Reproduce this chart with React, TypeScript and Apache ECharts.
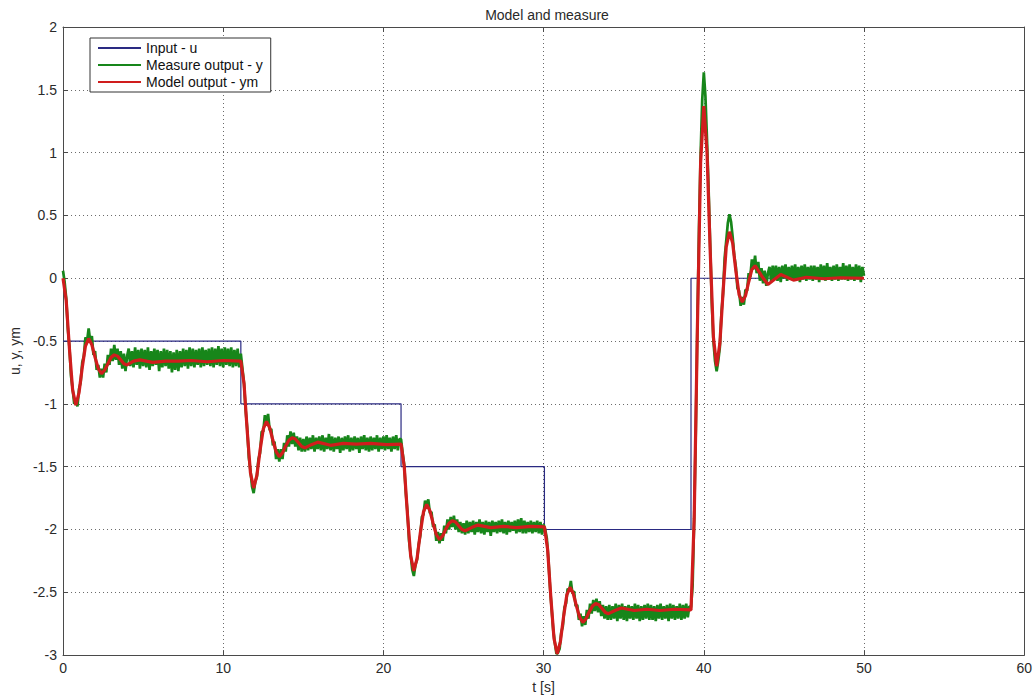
import React, { useEffect, useRef } from "react";
import * as echarts from "echarts";

const TITLE = "Model and measure";
const X_NAME = "t [s]";
const Y_NAME = "u, y, ym";
const LEGEND_NAMES = ["Input - u", "Measure output - y", "Model output - ym"];

// Input signal u: step corners [t, u]
const INPUT_U: [number, number][] = [
  [0, -0.5], [11.1, -0.5], [11.1, -1], [21.1, -1], [21.1, -1.5],
  [30.05, -1.5], [30.05, -2], [39.2, -2], [39.2, 0], [50, 0],
];

// Model output ym [t, ym]
const MODEL_YM: [number, number][] = [
  [0, 0], [0.2, -0.18], [0.4, -0.56], [0.6, -0.89], [0.8, -1.01], [1.0, -0.91], [1.2, -0.71], [1.4, -0.54],
  [1.6, -0.48], [1.8, -0.53], [2.0, -0.63], [2.2, -0.72], [2.4, -0.76], [2.6, -0.73], [2.8, -0.68], [3.0, -0.63],
  [3.2, -0.61], [3.4, -0.62], [3.6, -0.65], [3.8, -0.68], [4.0, -0.69], [4.4, -0.66], [4.8, -0.65], [5.6, -0.67],
  [6.4, -0.66], [7.2, -0.66], [8.0, -0.655], [9.0, -0.665], [10.0, -0.655], [11.1, -0.66],
  [11.3, -0.84], [11.5, -1.22], [11.7, -1.55], [11.9, -1.67], [12.1, -1.57], [12.3, -1.37], [12.5, -1.2],
  [12.7, -1.14], [12.9, -1.19], [13.1, -1.29], [13.3, -1.38], [13.5, -1.42], [13.7, -1.39], [13.9, -1.335],
  [14.1, -1.29], [14.3, -1.27], [14.5, -1.28], [14.7, -1.31], [14.9, -1.34], [15.1, -1.35], [15.5, -1.325],
  [15.9, -1.305], [16.7, -1.33], [17.5, -1.315], [18.3, -1.32], [19.2, -1.315], [20.2, -1.325], [21.1, -1.32],
  [21.3, -1.5], [21.5, -1.88], [21.7, -2.21], [21.9, -2.33], [22.1, -2.23], [22.3, -2.03], [22.5, -1.86],
  [22.7, -1.8], [22.9, -1.85], [23.1, -1.95], [23.3, -2.04], [23.5, -2.08], [23.7, -2.05], [23.9, -1.995],
  [24.1, -1.95], [24.3, -1.93], [24.5, -1.94], [24.7, -1.97], [24.9, -2.0], [25.1, -2.01], [25.5, -1.985],
  [25.9, -1.965], [26.7, -1.985], [27.5, -1.975], [28.3, -1.985], [29.2, -1.975], [30.05, -1.98],
  [30.25, -2.16], [30.45, -2.54], [30.65, -2.87], [30.85, -2.99], [31.05, -2.89], [31.25, -2.69], [31.45, -2.52],
  [31.65, -2.46], [31.85, -2.51], [32.05, -2.61], [32.25, -2.7], [32.45, -2.74], [32.65, -2.71], [32.85, -2.655],
  [33.05, -2.61], [33.25, -2.59], [33.45, -2.6], [33.65, -2.63], [33.85, -2.66], [34.05, -2.67], [34.45, -2.645],
  [34.85, -2.625], [35.65, -2.645], [36.45, -2.635], [37.25, -2.645], [38.2, -2.635], [39.2, -2.64],
  [39.4, -1.91], [39.6, -0.39], [39.8, 0.92], [40.0, 1.37], [40.2, 1.0], [40.4, 0.21], [40.6, -0.47],
  [40.8, -0.7], [41.0, -0.52], [41.2, -0.11], [41.4, 0.25], [41.6, 0.37], [41.8, 0.28], [42.0, 0.06],
  [42.2, -0.13], [42.4, -0.19], [42.6, -0.14], [42.8, -0.03], [43.0, 0.07], [43.2, 0.1], [43.6, 0.02],
  [44.0, -0.05], [44.8, 0.03], [45.6, -0.015], [46.4, 0.008], [47.5, -0.004], [48.5, 0.004], [50.0, 0],
];

// Measured output y, sampled every SAMPLE_DT seconds from t = 0
const SAMPLE_DT = 0.1;
const MEASURED_Y: number[] = [
  // 0.0 - 4.0
  0.06, -0.03, -0.16, -0.40, -0.55, -0.78, -0.88, -1.00, -0.98, -1.02,
  -0.88, -0.83, -0.67, -0.62, -0.47, -0.50, -0.40, -0.50, -0.46, -0.61,
  -0.58, -0.73, -0.69, -0.79, -0.72, -0.79, -0.68, -0.75, -0.61, -0.69,
  -0.56, -0.66, -0.53, -0.65, -0.56, -0.69, -0.58, -0.72, -0.60, -0.74,
  -0.62,
  // 4.1 - 11.0
  -0.56, -0.70, -0.58, -0.71, -0.55, -0.69, -0.57, -0.72, -0.56, -0.70,
  -0.57, -0.71, -0.55, -0.73, -0.58, -0.70, -0.56, -0.69, -0.57, -0.74,
  -0.58, -0.71, -0.56, -0.70, -0.57, -0.72, -0.58, -0.75, -0.59, -0.73,
  -0.57, -0.74, -0.58, -0.71, -0.56, -0.70, -0.57, -0.72, -0.55, -0.70,
  -0.56, -0.71, -0.57, -0.69, -0.56, -0.71, -0.55, -0.70, -0.57, -0.69,
  -0.56, -0.70, -0.55, -0.71, -0.56, -0.69, -0.54, -0.70, -0.56, -0.71,
  -0.55, -0.69, -0.56, -0.70, -0.55, -0.71, -0.57, -0.70, -0.56, -0.71,
  // 11.1 - 15.1
  -0.60, -0.72, -0.84, -1.05, -1.20, -1.43, -1.53, -1.66, -1.71, -1.62,
  -1.58, -1.44, -1.39, -1.22, -1.22, -1.09, -1.16, -1.08, -1.21, -1.20,
  -1.33, -1.30, -1.44, -1.36, -1.46, -1.36, -1.44, -1.31, -1.38, -1.25,
  -1.34, -1.22, -1.32, -1.23, -1.34, -1.26, -1.37, -1.27, -1.38, -1.28,
  -1.38,
  // 15.2 - 21.0
  -1.26, -1.37, -1.27, -1.36, -1.25, -1.38, -1.27, -1.36, -1.26, -1.37,
  -1.25, -1.38, -1.27, -1.36, -1.24, -1.37, -1.26, -1.38, -1.27, -1.36,
  -1.26, -1.39, -1.27, -1.37, -1.26, -1.36, -1.25, -1.38, -1.27, -1.37,
  -1.26, -1.36, -1.27, -1.39, -1.26, -1.36, -1.25, -1.37, -1.27, -1.38,
  -1.26, -1.37, -1.27, -1.36, -1.25, -1.38, -1.27, -1.36, -1.26, -1.37,
  -1.25, -1.36, -1.27, -1.38, -1.26, -1.36, -1.25, -1.37, -1.28,
  // 21.1 - 25.1
  -1.28, -1.39, -1.49, -1.71, -1.86, -2.09, -2.20, -2.32, -2.37, -2.28,
  -2.24, -2.12, -2.05, -1.90, -1.88, -1.77, -1.82, -1.76, -1.87, -1.86,
  -1.98, -1.96, -2.09, -2.02, -2.11, -2.03, -2.09, -1.97, -2.03, -1.92,
  -2.00, -1.90, -1.98, -1.89, -2.00, -1.92, -2.02, -1.94, -2.03, -1.95,
  -2.04,
  // 25.2 - 30.0
  -1.93, -2.03, -1.94, -2.02, -1.93, -2.04, -1.94, -2.02, -1.92, -2.03,
  -1.94, -2.04, -1.93, -2.02, -1.94, -2.05, -1.93, -2.02, -1.94, -2.03,
  -1.93, -2.02, -1.92, -2.03, -1.94, -2.04, -1.93, -2.02, -1.94, -2.01,
  -1.93, -2.03, -1.92, -2.02, -1.91, -2.03, -1.93, -2.03, -1.94, -2.02,
  -1.93, -2.03, -1.94, -2.02, -1.93, -2.03, -1.94, -2.04, -1.96,
  // 30.1 - 34.0
  -2.00, -2.07, -2.24, -2.46, -2.63, -2.80, -2.90, -2.99, -2.98, -2.95,
  -2.82, -2.77, -2.62, -2.59, -2.47, -2.49, -2.41, -2.51, -2.49, -2.61,
  -2.60, -2.72, -2.67, -2.77, -2.69, -2.76, -2.64, -2.71, -2.59, -2.67,
  -2.56, -2.65, -2.55, -2.66, -2.57, -2.69, -2.60, -2.71, -2.61, -2.72,
  // 34.1 - 39.1
  -2.60, -2.72, -2.61, -2.71, -2.59, -2.73, -2.60, -2.71, -2.59, -2.72,
  -2.61, -2.73, -2.60, -2.71, -2.61, -2.72, -2.59, -2.71, -2.60, -2.73,
  -2.61, -2.72, -2.60, -2.71, -2.59, -2.72, -2.60, -2.72, -2.61, -2.73,
  -2.60, -2.71, -2.59, -2.72, -2.61, -2.71, -2.60, -2.73, -2.59, -2.71,
  -2.60, -2.72, -2.61, -2.71, -2.59, -2.72, -2.60, -2.71, -2.59, -2.70,
  -2.61,
  // 39.2 - 44.0
  -2.62, -2.45, -1.90, -1.20, -0.35, 0.40, 0.98, 1.42, 1.64, 1.45,
  1.10, 0.70, 0.25, -0.20, -0.50, -0.66, -0.74, -0.66, -0.55, -0.28,
  -0.12, 0.16, 0.30, 0.44, 0.51, 0.45, 0.33, 0.18, 0.09, -0.08,
  -0.10, -0.22, -0.15, -0.21, -0.09, -0.10, 0.04, 0.01, 0.15, 0.07,
  0.18, 0.04, 0.13, -0.02, 0.08, -0.04, 0.06, -0.06, 0.04,
  // 44.1 - 50.0
  0.09, -0.02, 0.10, -0.01, 0.10, -0.02, 0.09, -0.03, 0.10, 0.00,
  0.11, -0.02, 0.09, -0.01, 0.10, -0.02, 0.11, -0.01, 0.09, -0.03,
  0.10, -0.01, 0.11, -0.02, 0.09, -0.01, 0.10, -0.02, 0.10, -0.01,
  0.09, -0.03, 0.11, -0.01, 0.10, -0.02, 0.12, -0.01, 0.09, -0.02,
  0.10, -0.01, 0.11, -0.02, 0.09, -0.01, 0.12, -0.01, 0.10, -0.02,
  0.11, -0.01, 0.09, -0.02, 0.11, -0.01, 0.10, -0.03, 0.09, 0.02,
];

const FONT = "'Liberation Sans', Arial, sans-serif";
const AXIS_COLOR = "#4a4a4a";
const GRID_COLOR = "#6a6a6a";
const TEXT_COLOR = "#2a2a2a";
const BLUE = "#2a2a82";
const GREEN = "#17861a";
const RED = "#d01d1d";

export default function App() {
  const ref = useRef<HTMLDivElement>(null);

  useEffect(() => {
    if (!ref.current) return;
    const chart = echarts.init(ref.current, null, { renderer: "svg" });

    const measured = MEASURED_Y.map((y, i) => [+(i * SAMPLE_DT).toFixed(2), y]);

    const baseAxis = {
      axisLine: { show: true, onZero: false, lineStyle: { color: AXIS_COLOR, width: 1 } },
      axisTick: { show: true, inside: true, length: 5, lineStyle: { color: AXIS_COLOR } },
    };

    chart.setOption({
      animation: false,
      backgroundColor: "#ffffff",
      textStyle: { fontFamily: FONT },
      title: {
        text: TITLE,
        left: 542,
        top: 3,
        textAlign: "center",
        textStyle: { fontSize: 14, fontWeight: "normal", color: TEXT_COLOR, fontFamily: FONT },
      },
      grid: { left: 59, right: 9, top: 27, bottom: 36, containLabel: false },
      legend: {
        data: [
          { name: LEGEND_NAMES[0], itemStyle: { color: BLUE } },
          { name: LEGEND_NAMES[1], itemStyle: { color: GREEN } },
          { name: LEGEND_NAMES[2], itemStyle: { color: RED } },
        ],
        icon: "rect",
        orient: "vertical",
        left: 90,
        top: 38,
        backgroundColor: "#ffffff",
        borderColor: "#333",
        borderWidth: 1,
        borderRadius: 0,
        padding: [3, 8, 3, 8],
        itemWidth: 43,
        itemHeight: 2,
        itemGap: 3,
        selectedMode: false,
        textStyle: { fontSize: 14, color: "#111", fontFamily: FONT },
      },
      xAxis: [
        {
          type: "value",
          min: 0,
          max: 60,
          interval: 10,
          position: "bottom",
          ...baseAxis,
          axisLabel: { color: TEXT_COLOR, fontSize: 14, margin: 6, fontFamily: FONT },
          splitLine: { show: true, lineStyle: { type: [1, 3], color: GRID_COLOR, width: 1 } },
          name: X_NAME,
          nameLocation: "middle",
          nameGap: 23,
          nameTextStyle: { fontSize: 14, color: TEXT_COLOR, fontFamily: FONT },
        },
        {
          type: "value",
          min: 0,
          max: 60,
          interval: 10,
          position: "top",
          ...baseAxis,
          axisLabel: { show: false },
          splitLine: { show: false },
        },
      ],
      yAxis: [
        {
          type: "value",
          min: -3,
          max: 2,
          interval: 0.5,
          position: "left",
          ...baseAxis,
          axisLabel: { color: TEXT_COLOR, fontSize: 14, margin: 6, fontFamily: FONT },
          splitLine: { show: true, lineStyle: { type: [1, 3], color: GRID_COLOR, width: 1 } },
          name: Y_NAME,
          nameLocation: "middle",
          nameGap: 37,
          nameTextStyle: { fontSize: 14, color: TEXT_COLOR, fontFamily: FONT, padding: [0, 20, 0, 0] },
        },
        {
          type: "value",
          min: -3,
          max: 2,
          interval: 0.5,
          position: "right",
          ...baseAxis,
          axisLabel: { show: false },
          splitLine: { show: false },
        },
      ],
      series: [
        {
          name: LEGEND_NAMES[0],
          type: "line",
          data: INPUT_U,
          xAxisIndex: 0,
          yAxisIndex: 0,
          symbol: "none",
          silent: true,
          lineStyle: { color: BLUE, width: 1.2 },
          itemStyle: { color: BLUE },
        },
        {
          name: LEGEND_NAMES[1],
          type: "line",
          data: measured,
          xAxisIndex: 0,
          yAxisIndex: 0,
          symbol: "none",
          silent: true,
          lineStyle: { color: GREEN, width: 2.7 },
          itemStyle: { color: GREEN },
        },
        {
          name: LEGEND_NAMES[2],
          type: "line",
          data: MODEL_YM,
          xAxisIndex: 0,
          yAxisIndex: 0,
          symbol: "none",
          silent: true,
          lineStyle: { color: RED, width: 3.2 },
          itemStyle: { color: RED },
        },
      ],
    });

    return () => chart.dispose();
  }, []);

  return (
    <div
      ref={ref}
      style={{ position: "fixed", left: 0, top: 0, width: 1035, height: 699, background: "#fff" }}
    />
  );
}
